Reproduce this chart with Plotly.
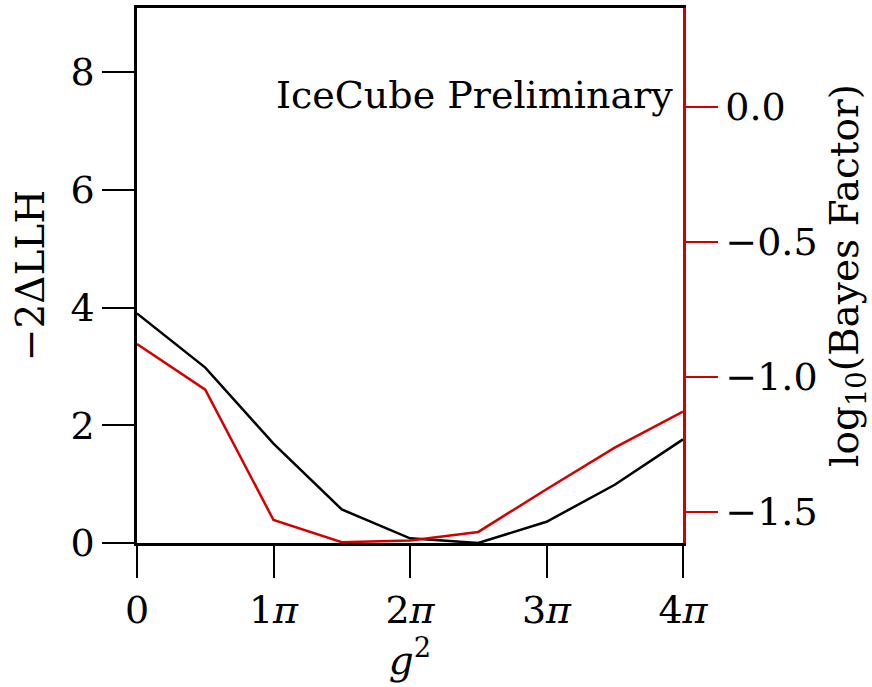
import numpy as np
import plotly.graph_objects as go

# x positions in units of pi
g2_over_pi = [0, 0.5, 1.0, 1.5, 2.0, 2.5, 3.0, 3.5, 4.0]
llh = [3.90, 2.98, 1.69, 0.57, 0.08, 0.0, 0.36, 0.99, 1.76]
log_bf = [-0.878, -1.047, -1.530, -1.612, -1.606, -1.574, -1.416, -1.262, -1.128]

xtick_vals_pi = [0, 1, 2, 3, 4]
xtick_text = ["0", "1<i>π</i>", "2<i>π</i>", "3<i>π</i>", "4<i>π</i>"]
left_ticks = [0, 2, 4, 6, 8]
right_ticks = [0.0, -0.5, -1.0, -1.5]
right_text = ["0.0", "−0.5", "−1.0", "−1.5"]

x = [v * np.pi for v in g2_over_pi]
RED = "#d40000"
FONT = "DejaVu Serif"
TS = 38
TT = 39

fig = go.Figure()
fig.add_trace(go.Scatter(x=x, y=llh, mode="lines", line=dict(color="black", width=2.5),
                         showlegend=False, yaxis="y"))
fig.add_trace(go.Scatter(x=x, y=log_bf, mode="lines", line=dict(color=RED, width=2.5),
                         showlegend=False, yaxis="y2"))

fig.update_layout(
    width=872, height=687,
    margin=dict(l=137, r=189, t=8, b=144),
    plot_bgcolor="white", paper_bgcolor="white",
    font=dict(family=FONT, size=TS, color="black"),
    xaxis=dict(range=[0, 4 * np.pi], tickvals=[v * np.pi for v in xtick_vals_pi], ticktext=xtick_text,
               tickfont=dict(family=FONT, size=TS), automargin=False,
               showline=True, linecolor="black", linewidth=2.5, mirror=True,
               ticks="outside", ticklen=32, tickwidth=2, tickcolor="black",
               showgrid=False, zeroline=False,
               title=dict(text="<i>g</i><sup>2</sup>", standoff=3, font=dict(family=FONT, size=TT))),
    yaxis=dict(range=[0, 9.09], tickvals=left_ticks,
               tickfont=dict(family=FONT, size=TS), automargin=False,
               showline=True, linecolor="black", linewidth=2.5,
               ticks="outside", ticklen=32, tickwidth=2, tickcolor="black",
               showgrid=False, zeroline=False,
               title=dict(text="−2ΔLLH", standoff=14, font=dict(family=FONT, size=TT))),
    yaxis2=dict(range=[-1.615, 0.367], tickvals=right_ticks, ticktext=right_text,
                tickfont=dict(family=FONT, size=TS), automargin=False,
                overlaying="y", side="right",
                showline=True, linecolor=RED, linewidth=2.5,
                ticks="outside", ticklen=32, tickwidth=2, tickcolor=RED,
                showgrid=False, zeroline=False,
                title=dict(text="log<sub>10</sub>(Bayes Factor)", standoff=22,
                           font=dict(family=FONT, size=TT))),
    annotations=[dict(text="IceCube Preliminary", xref="paper", yref="paper",
                      x=0.985, y=0.837, xanchor="right", yanchor="middle",
                      showarrow=False, font=dict(family=FONT, size=38))],
)

fig.write_html("out.html")
